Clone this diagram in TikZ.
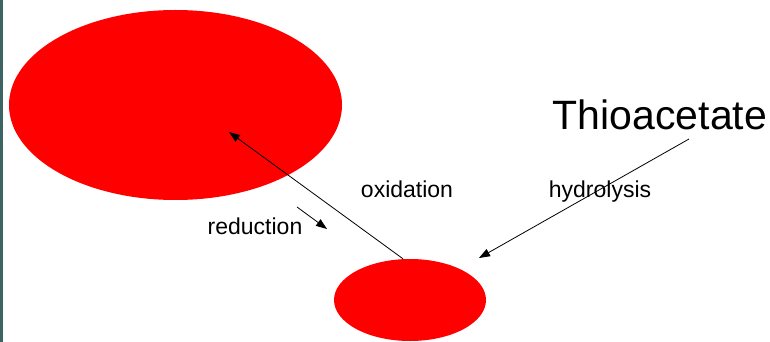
\documentclass[tikz,border=0pt]{standalone}
\usepackage{fontspec}
\setmainfont{Liberation Sans}
\usetikzlibrary{arrows.meta, positioning, shapes.geometric}
\definecolor{blobred}{RGB}{255, 0, 0}
\definecolor{edgeteal}{RGB}{60, 100, 100}

\begin{document}
\begin{tikzpicture}[
        x=1pt, y=-1pt,
        blob/.style={ellipse, fill=blobred, draw=none, inner sep=0pt},
        rxnlabel/.style={anchor=base, inner sep=0pt, font=\fontsize{23}{27}\selectfont},
        arrow/.style={-{Triangle[length=11pt, width=8pt]}, line width=0.8pt, draw=black}
    ]
        \useasboundingbox (0,0) rectangle (770,342);
        \fill[edgeteal] (0,0) rectangle (2.5,342);

        % Blobs
        \node[blob, minimum width=333pt, minimum height=190pt] (bigblob) at (175.5,105) {};
        \node[blob, minimum width=152pt, minimum height=82pt] (smallblob) at (410,300) {};

        % Reagent
        \node[anchor=base, inner sep=0pt, font=\fontsize{41}{48}\selectfont] (thio) at (660,129) {Thioacetate};

        % Labels
        \node[rxnlabel] (oxlabel) at (407,197) {oxidation};
        \node[rxnlabel] (hydlabel) at (600,197) {hydrolysis};
        \node[rxnlabel] (redlabel) at (255,234) {reduction};

        % Arrow ends
        \coordinate (oxtip) at (229,132);
        \coordinate (hydstart) at (689,139);
        \coordinate (hydtip) at (479,258);
        \coordinate (redstart) at (297,207);
        \coordinate (redtip) at (327,229);

        % Connections
        \draw[arrow] ([xshift=-7pt]smallblob.north) -- (oxtip);
        \draw[arrow] (hydstart) -- (hydtip);
        \draw[arrow] (redstart) -- (redtip);

    \end{tikzpicture}
\end{document}
